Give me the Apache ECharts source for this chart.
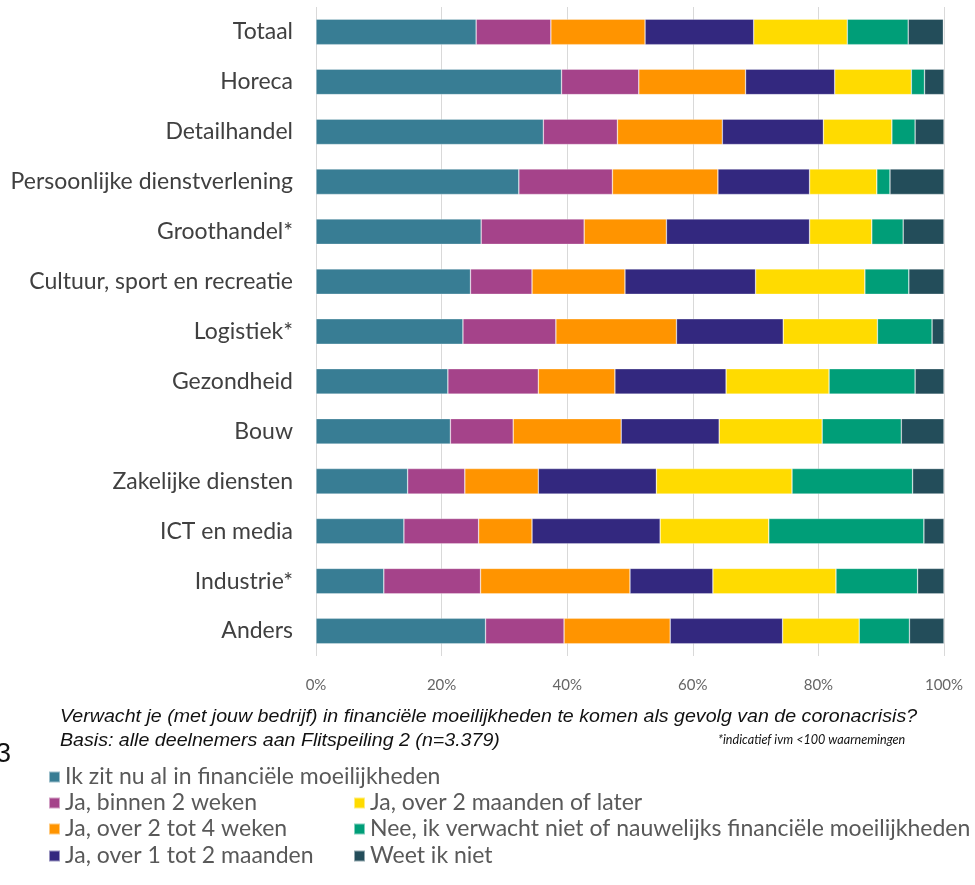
<!DOCTYPE html>
<html><head><meta charset="utf-8">
<script src="https://cdn.jsdelivr.net/npm/echarts@6/dist/echarts.min.js"></script>
<style>html,body{margin:0;padding:0;background:#fff}#c{width:975px;height:885px}</style>
</head><body><div id="c"></div>
<script>
const categories = ["Totaal","Horeca","Detailhandel","Persoonlijke dienstverlening","Groothandel*","Cultuur, sport en recreatie","Logistiek*","Gezondheid","Bouw","Zakelijke diensten","ICT en media","Industrie*","Anders"];
const seriesNames = ["Ik zit nu al in financiële moeilijkheden","Ja, binnen 2 weken","Ja, over 2 tot 4 weken","Ja, over 1 tot 2 maanden","Ja, over 2 maanden of later","Nee, ik verwacht niet of nauwelijks financiële moeilijkheden","Weet ik niet"];
const alMoeilijk   = [25.5,39.1,36.2,32.3,26.3,24.6,23.4,21.0,21.4,14.6,14.0,10.8,27.0];
const binnen2w     = [11.9,12.3,11.8,14.9,16.4, 9.8,14.8,14.4,10.0, 9.1,11.9,15.4,12.5];
const over2tot4w   = [15.0,17.0,16.7,16.8,13.1,14.8,19.2,12.2,17.2,11.7, 8.5,23.8,16.9];
const over1tot2m   = [17.3,14.2,16.1,14.6,22.8,20.8,17.0,17.7,15.6,18.8,20.4,13.2,17.9];
const over2mLater  = [14.9,12.2,10.9,10.7, 9.9,17.4,15.0,16.4,16.4,21.6,17.3,19.6,12.2];
const nee          = [ 9.7, 2.1, 3.7, 2.1, 5.0, 7.0, 8.7,13.7,12.6,19.2,24.7,13.0, 8.0];
const weetNiet     = [ 5.6, 3.1, 4.6, 8.6, 6.5, 5.6, 1.9, 4.6, 6.8, 5.0, 3.2, 4.2, 5.5];
const xTicks = [0,20,40,60,80,100];
const colors = ["#387D94","#A5438A","#FF9400","#33287F","#FFDB00","#009E78","#234D5A"];
const allValues = [alMoeilijk,binnen2w,over2tot4w,over1tot2m,over2mLater,nee,weetNiet];

const chart = echarts.init(document.getElementById('c'), null, {renderer:'canvas'});
const series = seriesNames.map((n,i)=>({
  name:n, type:'bar', stack:'total', barWidth:'51%',
  itemStyle:{color:colors[i], borderColor:'rgba(255,255,255,0.5)', borderWidth:0.6},
  data: allValues[i]
}));
const legendText = {color:'#595959', fontFamily:'Lato', fontSize:23, lineHeight:24};
// legend slots: [left, centerY] per series
const legendPos = [[48,777],[48,803],[48,829],[48,856],[353,803],[353,829],[353,856]];
const legends = seriesNames.map((n,i)=>({
  left:legendPos[i][0], top:legendPos[i][1]-12, orient:'horizontal', icon:'rect',
  itemWidth:11, itemHeight:11, padding:0, data:[n], textStyle:legendText, selectedMode:false
}));
chart.setOption({
  animation:false,
  color:colors,
  grid:{left:316, right:31, top:7, bottom:229, containLabel:false},
  xAxis:{type:'value', min:0, max:100, interval:20,
    axisLine:{show:false}, axisTick:{show:false},
    splitLine:{lineStyle:{color:'#d9d9d9', width:1}},
    axisLabel:{formatter:v=>xTicks.includes(v)?v+'%':'', margin:22, color:'#666666', fontFamily:'Lato', fontSize:15}
  },
  yAxis:{type:'category', data:categories, inverse:true,
    axisLine:{show:false}, axisTick:{show:false},
    axisLabel:{margin:23, color:'#404040', fontFamily:'Lato', fontSize:23}
  },
  legend:legends,
  graphic:[
    {type:'text', left:60, top:707, scaleX:1.06, style:{text:'Verwacht je (met jouw bedrijf) in financiële moeilijkheden te komen als gevolg van de coronacrisis?', fill:'#111', font:'italic 18.5px "Liberation Sans"'}},
    {type:'text', left:60, top:731, scaleX:1.06, style:{text:'Basis: alle deelnemers aan Flitspeiling 2 (n=3.379)', fill:'#111', font:'italic 18.5px "Liberation Sans"'}},
    {type:'text', left:718, top:733, style:{text:'*indicatief ivm <100 waarnemingen', fill:'#111', font:'italic 12.6px "Lato"'}},
    {type:'text', left:-4, top:741, style:{text:'3', fill:'#111', font:'27px "Liberation Sans"'}}
  ],
  series:series
});
</script></body></html>
